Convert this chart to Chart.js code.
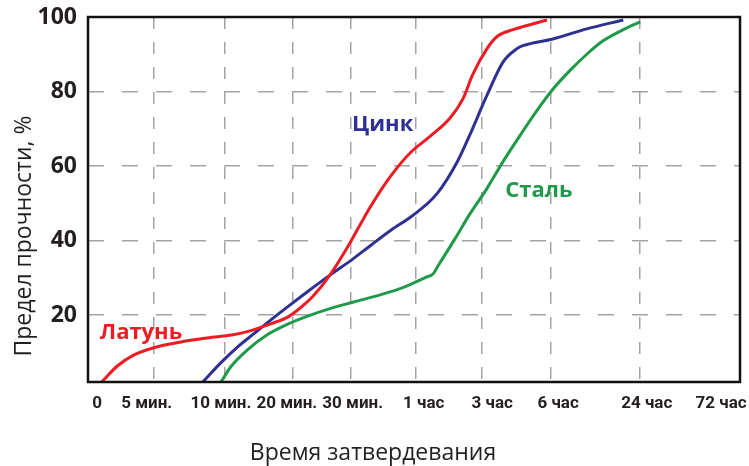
<!DOCTYPE html>
<html>
<head>
<meta charset="utf-8">
<script src="https://cdn.jsdelivr.net/npm/chart.js@4/dist/chart.umd.min.js"></script>
<style>
    html, body { margin: 0; padding: 0; background: #fff; }
    canvas { display: block; }
</style>
</head>
<body>
<canvas id="strengthChart" width="749" height="466"></canvas>
<script>
// x is a position along the (non-uniform) time axis, 0..100 across the plot
const xLabelPos = [1.4, 9.0, 20.4, 30.5, 40.6, 51.5, 62.0, 72.1, 85.7, 97.1];
const xLabels = ['0', '5 мин.', '10 мин.', '20 мин.', '30 мин.', '1 час', '3 час', '6 час', '24 час', '72 час'];
const xGridPos = [10.1, 21.0, 31.4, 40.3, 50.3, 60.4, 71.0, 84.7];
const yTicks = [20, 40, 60, 80, 100];

const brassX = [2.1, 4.5, 7.0, 10.5, 15.0, 19.0, 22.0, 25.0, 28.0, 30.7, 32.5, 34.5, 37.1, 39.7, 41.5, 43.3, 46.3, 49.4, 52.5, 55.5, 57.5, 59.0, 61.2, 62.7, 65.2, 68.3, 70.4];
const brassY = [2, 6.3, 9.2, 11.4, 13.0, 14.0, 14.6, 15.8, 17.6, 19.5, 21.8, 25.0, 30.7, 37.9, 43.5, 49.0, 57.0, 63.5, 68.0, 72.8, 78.0, 84.5, 91.5, 94.7, 96.6, 98.2, 99.2];

const zincX = [17.6, 20.4, 23.0, 25.6, 28.0, 30.7, 33.7, 37.1, 40.6, 43.3, 46.5, 49.8, 53.5, 56.6, 58.6, 61.2, 63.7, 65.8, 66.7, 71.3, 76.5, 82.1];
const zincY = [2, 7.2, 11.5, 15.2, 18.6, 22.3, 26.3, 30.7, 35.0, 38.6, 42.8, 46.7, 52.5, 61.0, 68.5, 79.0, 88.0, 91.5, 92.3, 94.1, 96.8, 99.2];

const steelX = [20.4, 21.9, 24.5, 27.6, 30.7, 33.7, 37.1, 40.6, 44.8, 48.5, 51.8, 52.9, 53.8, 56.3, 58.6, 61.2, 63.7, 66.3, 68.9, 71.3, 73.9, 76.5, 79.0, 82.1, 84.7];
const steelY = [2, 6.1, 10.7, 14.8, 17.6, 19.7, 21.7, 23.4, 25.4, 27.5, 30.1, 31.0, 33.5, 40.5, 47.2, 54.0, 61.3, 68.3, 75.0, 80.6, 85.6, 90.0, 93.6, 96.6, 98.7];

const seriesNames = ['Латунь', 'Цинк', 'Сталь'];
const seriesColors = ['#ed1c24', '#2e3192', '#1e9a4a'];
const nameX = [1.8, 40.5, 64.0];
const nameY = [15.2, 71.2, 53.3];

const GRID_COLOR = '#a3a3a3';
const TEXT_COLOR = '#231f20';

function toPoints(xs, ys) {
    return xs.map((x, i) => ({ x, y: ys[i] }));
}

const frameAndTextPlugin = {
    id: 'frameAndText',
    afterDatasetsDraw(chart) {
        const { ctx, chartArea: { left, right, top, bottom }, scales: { x, y } } = chart;
        ctx.save();
        ctx.strokeStyle = '#111';
        ctx.lineWidth = 2.5;
        ctx.strokeRect(left, top, right - left, bottom - top);

        ctx.font = 'bold 22px "Open Sans", sans-serif';
        ctx.textAlign = 'left';
        ctx.textBaseline = 'middle';
        seriesNames.forEach((name, i) => {
            ctx.fillStyle = seriesColors[i];
            ctx.fillText(name, x.getPixelForValue(nameX[i]), y.getPixelForValue(nameY[i]));
        });

        ctx.fillStyle = TEXT_COLOR;
        ctx.textAlign = 'center';
        ctx.font = '23px "Open Sans", sans-serif';
        ctx.fillText('Время затвердевания', 373, 453);

        ctx.translate(24, 236);
        ctx.rotate(-Math.PI / 2);
        ctx.font = '23px "Open Sans", sans-serif';
        ctx.fillText('Предел прочности, %', 0, 0);
        ctx.restore();
    }
};

const lineSet = (label, data, color) => ({
    label,
    data,
    borderColor: color,
    borderWidth: 3,
    pointRadius: 0,
    fill: false,
    cubicInterpolationMode: 'monotone'
});

new Chart(document.getElementById('strengthChart'), {
    type: 'line',
    data: {
        datasets: [
            lineSet(seriesNames[0], toPoints(brassX, brassY), seriesColors[0]),
            lineSet(seriesNames[1], toPoints(zincX, zincY), seriesColors[1]),
            lineSet(seriesNames[2], toPoints(steelX, steelY), seriesColors[2])
        ]
    },
    options: {
        responsive: false,
        animation: false,
        layout: { padding: { left: 0, right: 9, top: 17, bottom: 0 } },
        plugins: { legend: { display: false }, tooltip: { enabled: false } },
        scales: {
            x: {
                type: 'linear',
                position: 'bottom',
                min: 0,
                max: 100,
                afterBuildTicks: (axis) => { axis.ticks = xLabelPos.map((v) => ({ value: v })); },
                afterFit: (axis) => { axis.height = 84; axis.paddingLeft = 0; axis.paddingRight = 0; },
                grid: { display: false, drawTicks: false },
                border: { display: false },
                ticks: {
                    autoSkip: false,
                    maxRotation: 0,
                    padding: 12,
                    color: TEXT_COLOR,
                    font: { family: 'Roboto', weight: 'bold', size: 17 },
                    callback: (value, index) => xLabels[index]
                }
            },
            xg: {
                type: 'linear',
                position: 'top',
                min: 0,
                max: 100,
                afterBuildTicks: (axis) => { axis.ticks = xGridPos.map((v) => ({ value: v })); },
                afterFit: (axis) => { axis.height = 0; axis.paddingLeft = 0; axis.paddingRight = 0; },
                grid: { color: GRID_COLOR, lineWidth: 1.5, drawTicks: false },
                border: { display: false, dash: [12, 13] },
                ticks: { display: false }
            },
            y: {
                min: 2,
                max: 100,
                afterBuildTicks: (axis) => { axis.ticks = yTicks.map((v) => ({ value: v })); },
                afterFit: (axis) => { axis.width = 88; axis.paddingTop = 0; axis.paddingBottom = 0; },
                grid: {
                    color: (c) => (c.tick && c.tick.value === 100 ? 'rgba(0,0,0,0)' : GRID_COLOR),
                    lineWidth: 1.5,
                    drawTicks: false
                },
                border: { display: false, dash: [16, 18] },
                ticks: {
                    padding: 11,
                    color: TEXT_COLOR,
                    font: { family: 'Open Sans', weight: 'bold', size: 23 }
                }
            }
        }
    },
    plugins: [frameAndTextPlugin]
});
</script>
</body>
</html>
